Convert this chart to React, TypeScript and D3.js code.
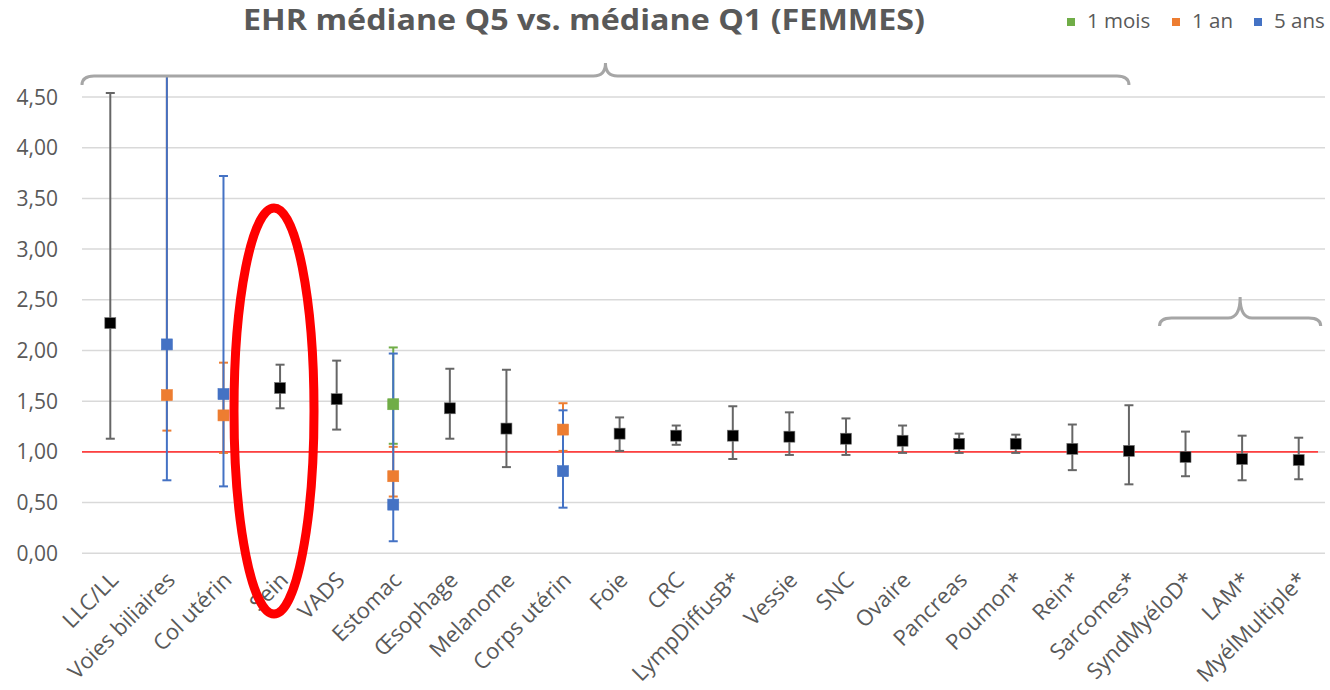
import React from "react"
import * as d3 from "d3"

const categories = [
  "LLC/LL", "Voies biliaires", "Col utérin", "Sein", "VADS", "Estomac",
  "Œsophage", "Melanome", "Corps utérin", "Foie", "CRC", "LympDiffusB*",
  "Vessie", "SNC", "Ovaire", "Pancreas", "Poumon*", "Rein*", "Sarcomes*",
  "SyndMyéloD*", "LAM*", "MyélMultiple*",
]

// EHR toutes durées confondues (marqueur noir)
const allValue = [2.27, null, null, 1.63, 1.52, null, 1.43, 1.23, null, 1.18, 1.16, 1.16, 1.15, 1.13, 1.11, 1.08, 1.08, 1.03, 1.01, 0.95, 0.93, 0.92]
const allLow = [1.13, null, null, 1.43, 1.22, null, 1.13, 0.85, null, 1.01, 1.07, 0.93, 0.97, 0.97, 0.99, 0.99, 0.99, 0.82, 0.68, 0.76, 0.72, 0.73]
const allHigh = [4.54, null, null, 1.86, 1.90, null, 1.82, 1.81, null, 1.34, 1.26, 1.45, 1.39, 1.33, 1.26, 1.18, 1.17, 1.27, 1.46, 1.20, 1.16, 1.14]

// 1 mois
const moisValue = [null, null, null, null, null, 1.47, null, null, null, null, null, null, null, null, null, null, null, null, null, null, null, null]
const moisLow = [null, null, null, null, null, 1.08, null, null, null, null, null, null, null, null, null, null, null, null, null, null, null, null]
const moisHigh = [null, null, null, null, null, 2.03, null, null, null, null, null, null, null, null, null, null, null, null, null, null, null, null]

// 1 an
const anValue = [null, 1.56, 1.36, null, null, 0.76, null, null, 1.22, null, null, null, null, null, null, null, null, null, null, null, null, null]
const anLow = [null, 1.21, 0.99, null, null, 0.56, null, null, 1.01, null, null, null, null, null, null, null, null, null, null, null, null, null]
const anHigh = [null, 5.2, 1.88, null, null, 1.05, null, null, 1.48, null, null, null, null, null, null, null, null, null, null, null, null, null]

// 5 ans
const ansValue = [null, 2.06, 1.57, null, null, 0.48, null, null, 0.81, null, null, null, null, null, null, null, null, null, null, null, null, null]
const ansLow = [null, 0.72, 0.66, null, null, 0.12, null, null, 0.45, null, null, null, null, null, null, null, null, null, null, null, null, null]
const ansHigh = [null, 5.6, 3.72, null, null, 1.97, null, null, 1.41, null, null, null, null, null, null, null, null, null, null, null, null, null]

const yTicks = [0, 0.5, 1, 1.5, 2, 2.5, 3, 3.5, 4, 4.5]

const W = 1330
const H = 690
const FONT = "'Open Sans', Lato, sans-serif"
const GRAY = "#595959"

// drawing order: later ones on top
const series = [
  { name: "1 mois", color: "#70AD47", bar: "#70AD47", value: moisValue, low: moisLow, high: moisHigh },
  { name: "1 an", color: "#ED7D31", bar: "#ED7D31", value: anValue, low: anLow, high: anHigh },
  { name: "5 ans", color: "#4472C4", bar: "#4472C4", value: ansValue, low: ansLow, high: ansHigh },
  { name: "all", color: "#000000", bar: "#666666", value: allValue, low: allLow, high: allHigh },
]
const legend = [series[0], series[1], series[2]]
const legendX = [1067, 1172, 1254]

export default function App() {
  const x = d3.scaleBand().domain(categories).range([82, 1327])
  const y = d3.scaleLinear().domain([0, 4.7]).range([553.3, 76.7])
  const cx = (c: string) => (x(c) as number) + x.bandwidth() / 2
  const fmt = (v: number) => d3.format(".2f")(v).replace(".", ",")

  const brace = (x0: number, x1: number, yb: number, depth: number, tip: number) => {
    const m = (x0 + x1) / 2
    const r = 12
    return `M${x0},${yb + depth} Q${x0},${yb} ${x0 + r},${yb} L${m - r},${yb} Q${m},${yb} ${m},${yb - tip} Q${m},${yb} ${m + r},${yb} L${x1 - r},${yb} Q${x1},${yb} ${x1},${yb + depth}`
  }

  const cap = 4.5
  return (
    <svg width={W} height={H} style={{ position: "absolute", left: 0, top: 0, background: "#fff" }} fontFamily={FONT}>
      <defs>
        <clipPath id="plot">
          <rect x={0} y={y(4.7)} width={W} height={y(0) - y(4.7) + 2} />
        </clipPath>
      </defs>
      <text x={584} y={30} textAnchor="middle" fontSize={28.5} fontWeight={700} fill={GRAY}
        textLength={682} lengthAdjust="spacingAndGlyphs">
        EHR médiane Q5 vs. médiane Q1 (FEMMES)
      </text>

      {legend.map((s, i) => (
        <g key={s.name}>
          <rect x={legendX[i]} y={18} width={8} height={8} fill={s.color} />
          <text x={legendX[i] + 20} y={28} fontSize={20.5} fill={GRAY}>{s.name}</text>
        </g>
      ))}

      {yTicks.map(t => (
        <g key={t}>
          <line x1={82} x2={1325} y1={y(t)} y2={y(t)} stroke="#d9d9d9" strokeWidth={1.5} />
          <text x={58} y={y(t)} dy="0.36em" textAnchor="end" fontSize={21} fill={GRAY}>{fmt(t)}</text>
        </g>
      ))}
      <line x1={82} x2={1318} y1={y(1)} y2={y(1)} stroke="#ff4040" strokeWidth={1.6} />

      <g clipPath="url(#plot)">
        {series.map(s =>
          categories.map((c, i) => {
            const v = s.value[i]
            if (v == null) return null
            const lo = s.low[i] as number
            const hi = s.high[i] as number
            return (
              <g key={s.name + c} stroke={s.bar} strokeWidth={2}>
                <line x1={cx(c)} x2={cx(c)} y1={y(lo)} y2={y(hi)} />
                <line x1={cx(c) - cap} x2={cx(c) + cap} y1={y(lo)} y2={y(lo)} />
                <line x1={cx(c) - cap} x2={cx(c) + cap} y1={y(hi)} y2={y(hi)} />
              </g>
            )
          })
        )}
        {series.map(s =>
          categories.map((c, i) => {
            const v = s.value[i]
            if (v == null) return null
            return (
              <rect key={"m" + s.name + c} x={cx(c) - 5.5} y={y(v) - 5.5} width={11} height={11}
                fill={s.color} stroke={s.name === "all" ? "#777" : s.color} strokeWidth={0.6} />
            )
          })
        )}
      </g>

      {categories.map(c => (
        <text key={c} transform={`translate(${cx(c) + 4},${576}) rotate(-45)`} textAnchor="end"
          dy="0.35em" fontSize={22} fill={GRAY}>
          {c}
        </text>
      ))}

      <path d={brace(82, cx("Sarcomes*"), 76, 9, 13)} fill="none" stroke="#a6a6a6" strokeWidth={3} />
      <path d={brace(cx("SyndMyéloD*") - 26, cx("MyélMultiple*") + 22, 318, 8, 21)} fill="none" stroke="#a6a6a6" strokeWidth={3} />

      <ellipse cx={274} cy={411} rx={40} ry={203} fill="none" stroke="#ff0000" strokeWidth={9} />
    </svg>
  )
}
